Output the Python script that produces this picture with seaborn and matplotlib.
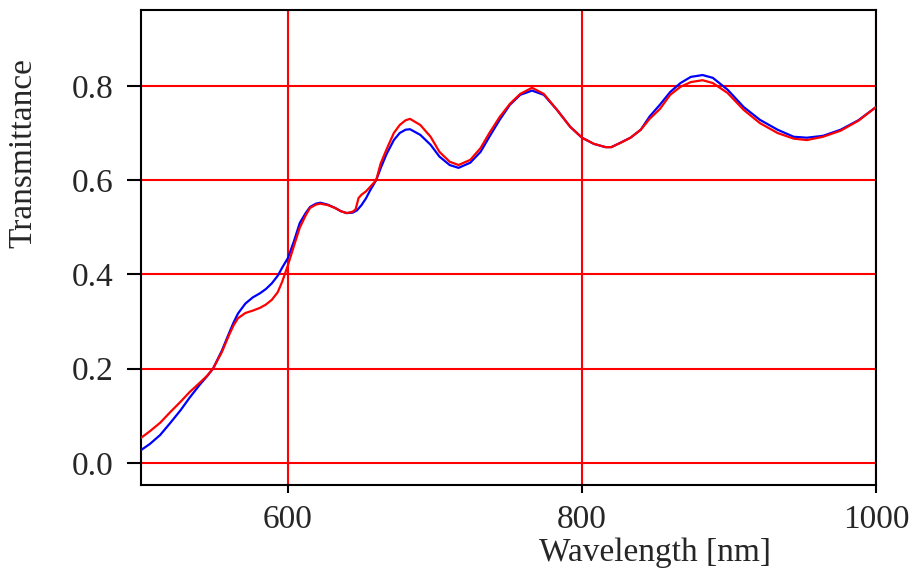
import matplotlib
matplotlib.use("Agg")
import matplotlib.pyplot as plt
import numpy as np
import pandas as pd
import seaborn as sns

# -------------------------------------------------------------------------------------------------------
# data
# -------------------------------------------------------------------------------------------------------

wl_blue = [500, 506, 513, 520, 527, 533, 540, 545, 549, 555, 560, 563, 566, 571, 576, 581, 585, 589,
           593, 596, 600, 604, 608, 612, 615, 619, 622, 627, 632, 636, 640, 644, 647, 650, 653, 656,
           660, 663, 667, 672, 676, 680, 683, 690, 697, 703, 710, 716, 724, 731, 737, 744, 751, 758,
           766, 774, 783, 792, 800, 808, 816, 820, 826, 833, 840, 846, 853, 860, 867, 874, 882, 889,
           899, 910, 921, 933, 944, 953, 964, 976, 988, 1000]
t_blue = [0.027, 0.040, 0.059, 0.085, 0.112, 0.138, 0.166, 0.184, 0.200, 0.238, 0.276, 0.298, 0.317,
          0.338, 0.351, 0.360, 0.369, 0.381, 0.397, 0.414, 0.435, 0.470, 0.509, 0.530, 0.543, 0.550,
          0.552, 0.548, 0.541, 0.534, 0.530, 0.531, 0.536, 0.547, 0.561, 0.579, 0.600, 0.625, 0.655,
          0.685, 0.700, 0.707, 0.708, 0.696, 0.675, 0.650, 0.632, 0.626, 0.637, 0.660, 0.692, 0.728,
          0.760, 0.781, 0.790, 0.781, 0.749, 0.713, 0.690, 0.677, 0.670, 0.670, 0.679, 0.690, 0.707,
          0.735, 0.760, 0.787, 0.806, 0.819, 0.823, 0.817, 0.792, 0.755, 0.728, 0.707, 0.692, 0.690,
          0.694, 0.707, 0.727, 0.755]

wl_red = [500, 506, 513, 520, 527, 533, 540, 545, 549, 555, 560, 563, 566, 571, 576, 581, 585, 589,
          593, 596, 600, 604, 608, 612, 615, 619, 622, 627, 632, 636, 640, 644, 646, 648, 650, 653,
          656, 660, 663, 667, 672, 676, 680, 683, 690, 697, 703, 710, 716, 724, 731, 737, 744, 751,
          758, 766, 774, 783, 792, 800, 808, 816, 820, 826, 833, 840, 846, 853, 860, 867, 874, 882,
          889, 899, 910, 921, 933, 944, 953, 964, 976, 988, 1000]
t_red = [0.053, 0.067, 0.085, 0.108, 0.130, 0.150, 0.170, 0.185, 0.200, 0.235, 0.272, 0.292, 0.307,
         0.318, 0.323, 0.329, 0.336, 0.346, 0.362, 0.384, 0.420, 0.460, 0.499, 0.525, 0.541, 0.548,
         0.550, 0.547, 0.541, 0.534, 0.530, 0.533, 0.538, 0.562, 0.569, 0.576, 0.586, 0.600, 0.635,
         0.665, 0.700, 0.717, 0.727, 0.730, 0.717, 0.692, 0.660, 0.639, 0.632, 0.643, 0.668, 0.700,
         0.734, 0.762, 0.783, 0.796, 0.783, 0.749, 0.713, 0.690, 0.677, 0.670, 0.670, 0.679, 0.690,
         0.707, 0.730, 0.751, 0.781, 0.798, 0.808, 0.812, 0.806, 0.785, 0.749, 0.721, 0.700, 0.688,
         0.685, 0.692, 0.705, 0.726, 0.755]

x_ticks = [600, 800, 1000]
y_ticks = [0.0, 0.2, 0.4, 0.6, 0.8]

df = pd.concat([
    pd.DataFrame({"wl": wl_blue, "T": t_blue, "src": "blue"}),
    pd.DataFrame({"wl": wl_red, "T": t_red, "src": "red"}),
], ignore_index=True)

sns.set_style("ticks")
plt.rcParams["font.family"] = ["Liberation Serif", "DejaVu Serif"]
plt.rcParams["axes.linewidth"] = 1.5

fig = plt.figure(figsize=(9.11, 5.72), dpi=100)
ax = fig.add_axes([141 / 911, 1 - 485 / 572, 735 / 911, 475 / 572])

# red grid at the ticks
for y in y_ticks:
    ax.axhline(y, color="#ff0000", linewidth=1.5, zorder=1)
for x in x_ticks:
    ax.axvline(x, color="#ff0000", linewidth=1.5, zorder=1)

sns.lineplot(data=df, x="wl", y="T", hue="src", palette={"blue": "#0000ff", "red": "#ff0000"},
             linewidth=1.6, legend=False, ax=ax, zorder=3, sort=False)

ax.set_xlim(500, 1000)
ax.set_ylim(-0.047, 0.961)
ax.set_xticks(x_ticks)
ax.set_yticks(y_ticks)
ax.set_yticklabels(["%.1f" % v for v in y_ticks])
ax.tick_params(axis="x", length=6, width=1.5, pad=8, labelsize=24, color="black")
ax.tick_params(axis="y", length=10, width=1.5, pad=10, labelsize=24, color="black")

for s in ax.spines.values():
    s.set_visible(True)
    s.set_color("black")

ax.set_xlabel("Wavelength [nm]", fontsize=24)
ax.xaxis.set_label_coords(0.699, -0.143)
ax.xaxis.label.set_va("center")
ax.set_ylabel("Transmittance", fontsize=24)
ax.yaxis.set_label_coords(-0.1605, 0.699)
ax.yaxis.label.set_va("center")

fig.savefig("out.png", dpi=100)
